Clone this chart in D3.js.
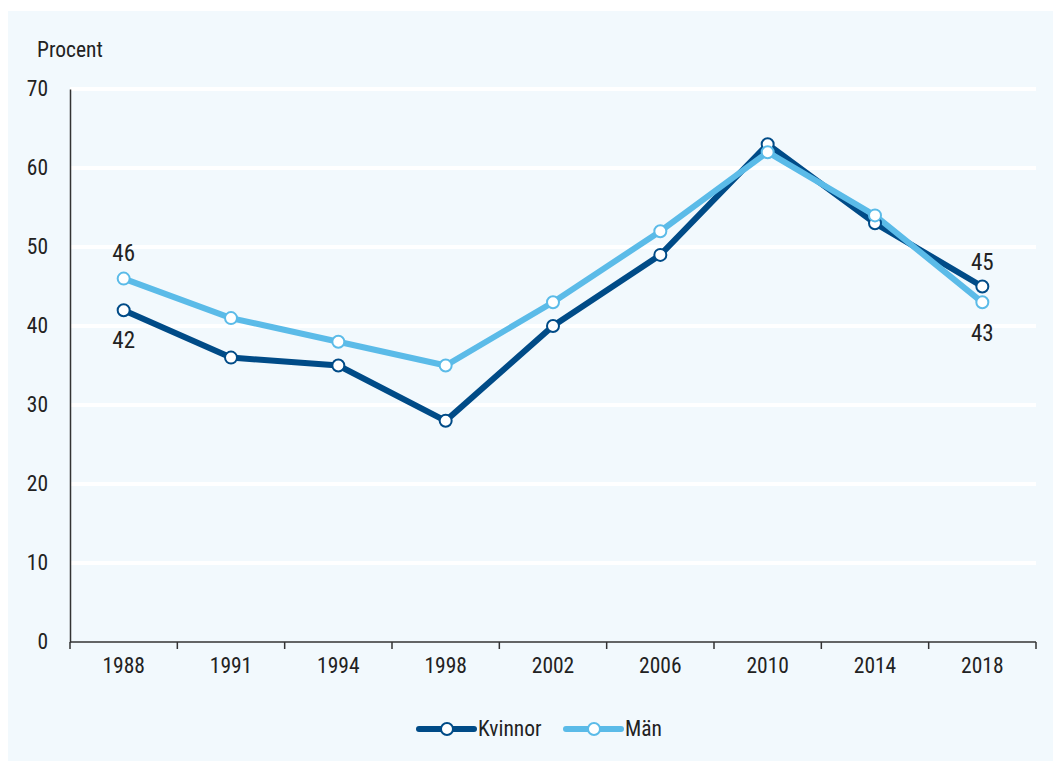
<!DOCTYPE html>
<html>
<head>
<meta charset="utf-8">
<script src="https://cdn.jsdelivr.net/npm/d3@7"></script>
<style>
  body { margin: 0; background: #fff; }
  text { font-family: "Liberation Sans Narrow", "Roboto Condensed", "Noto Sans", sans-serif; fill: #222; }
</style>
</head>
<body>
<script>
var years = ['1988', '1991', '1994', '1998', '2002', '2006', '2010', '2014', '2018']
var kvinnor = [42, 36, 35, 28, 40, 49, 63, 53, 45]
var man = [46, 41, 38, 35, 43, 52, 62, 54, 43]
var yTicks = [0, 10, 20, 30, 40, 50, 60, 70]

var W = 1053, H = 761
var margin = {left: 70, right: 1036, top: 89, bottom: 642}

var svg = d3.select('body').append('svg')
    .attr('width', W)
    .attr('height', H)

svg.append('rect')
    .attr('x', 8).attr('y', 11)
    .attr('width', W - 8).attr('height', H - 11)
    .attr('fill', '#f2f9fd')

var x = d3.scaleBand()
    .domain(years)
    .range([margin.left, margin.right])

var y = d3.scaleLinear()
    .domain([0, 70])
    .range([margin.bottom, margin.top])

// gridlines
svg.append('g').selectAll('line')
    .data(yTicks.filter(d => d > 0))
    .enter().append('line')
      .attr('x1', margin.left).attr('x2', margin.right)
      .attr('y1', d => y(d)).attr('y2', d => y(d))
      .attr('stroke', '#fff')
      .attr('stroke-width', 4)

// y axis
var yAxis = svg.append('g')
    .attr('transform', 'translate(' + margin.left + ',0)')
    .call(d3.axisLeft(y).tickValues(yTicks).tickSize(0).tickPadding(22))
yAxis.select('.domain').attr('stroke', '#333').attr('stroke-width', 1.5)
yAxis.selectAll('text').style('font-size', '21.5px').attr('fill', '#222')

// x axis
var xAxis = svg.append('g')
    .attr('transform', 'translate(0,' + margin.bottom + ')')
    .call(d3.axisBottom(x).tickSize(0).tickPadding(16))
xAxis.select('.domain').remove()
xAxis.selectAll('text').style('font-size', '21.5px').attr('fill', '#222')
xAxis.append('line')
    .attr('x1', margin.left).attr('x2', margin.right)
    .attr('stroke', '#333').attr('stroke-width', 1.5)
xAxis.selectAll('line.sep')
    .data(years.concat(['end']))
    .enter().append('line')
      .attr('class', 'sep')
      .attr('x1', (d, i) => margin.left + i * x.step())
      .attr('x2', (d, i) => margin.left + i * x.step())
      .attr('y1', 0).attr('y2', 7)
      .attr('stroke', '#333').attr('stroke-width', 1.5)

svg.append('text')
    .attr('x', 37).attr('y', 57)
    .style('font-size', '21.5px')
    .text('Procent')

var cx = d => x(d) + x.bandwidth() / 2
var line = d3.line()
    .x((d, i) => cx(years[i]))
    .y(d => y(d))

var series = [
  {name: 'Kvinnor', values: kvinnor, color: '#004b87'},
  {name: 'Män', values: man, color: '#5bbbe8'}
]

series.forEach(function(s) {
  svg.append('path')
      .datum(s.values)
      .attr('d', line)
      .attr('fill', 'none')
      .attr('stroke', s.color)
      .attr('stroke-width', 6)
      .attr('stroke-linejoin', 'miter')
})
series.forEach(function(s) {
  svg.append('g').selectAll('circle')
      .data(s.values)
      .enter().append('circle')
        .attr('cx', (d, i) => cx(years[i]))
        .attr('cy', d => y(d))
        .attr('r', 6)
        .attr('fill', '#fff')
        .attr('stroke', s.color)
        .attr('stroke-width', 2)
})

// value labels at ends
var labels = [
  {i: 0, v: man[0], dy: -18},
  {i: 0, v: kvinnor[0], dy: 38},
  {i: 8, v: kvinnor[8], dy: -17},
  {i: 8, v: man[8], dy: 39}
]
svg.append('g').selectAll('text')
    .data(labels)
    .enter().append('text')
      .attr('x', d => cx(years[d.i]))
      .attr('y', d => y(d.v) + d.dy)
      .attr('text-anchor', 'middle')
      .style('font-size', '23px')
      .attr('fill', '#111')
      .text(d => d.v)

// legend
var legend = [
  {name: 'Kvinnor', color: '#004b87', x: 419},
  {name: 'Män', color: '#5bbbe8', x: 566}
]
var lg = svg.append('g').selectAll('g')
    .data(legend)
    .enter().append('g')
      .attr('transform', d => 'translate(' + d.x + ',729)')
lg.append('line')
    .attr('x1', 0).attr('x2', 55)
    .attr('stroke', d => d.color).attr('stroke-width', 6)
    .attr('stroke-linecap', 'round')
lg.append('circle')
    .attr('cx', 28).attr('r', 6)
    .attr('fill', '#fff')
    .attr('stroke', d => d.color).attr('stroke-width', 2)
lg.append('text')
    .attr('x', 59).attr('y', 7)
    .style('font-size', '21.5px')
    .text(d => d.name)
</script>
</body>
</html>
